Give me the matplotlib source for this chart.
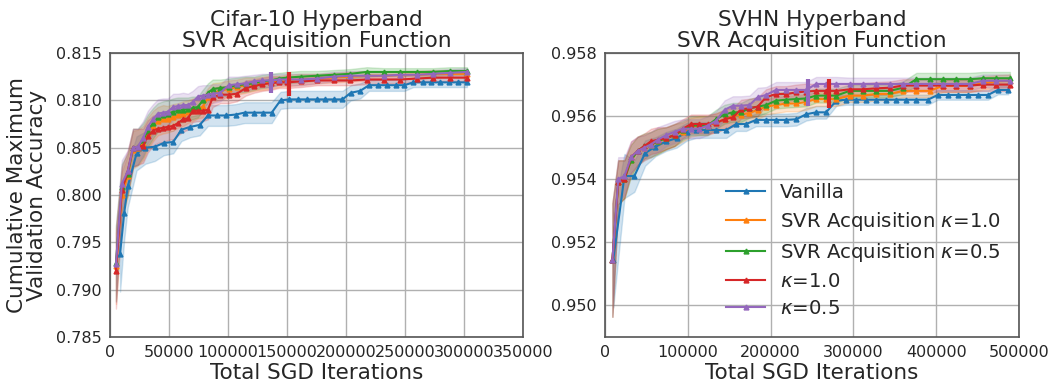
import numpy as np
import matplotlib
matplotlib.use("Agg")
import matplotlib.pyplot as plt

# ---------------- data: Cifar-10 (left) ----------------
x_van_left = [8500, 12000, 15000, 22500, 30000, 38000, 45500, 53500, 60500, 68000, 76000,
              83000, 91000, 98500, 106500, 114000, 122000, 129500, 137000, 144500, 152000,
              159500, 167000, 175000, 182000, 189500, 197000, 204000, 212000, 219500, 227000,
              234500, 242000, 249500, 257000, 265000, 272000, 279500, 287500, 295000, 302500]
van_left = [0.7938, 0.7981, 0.8009, 0.8044, 0.8050, 0.8051, 0.8055, 0.8056, 0.8069, 0.8072, 0.8074,
            0.8084, 0.8084, 0.8084, 0.8085, 0.8087, 0.8087, 0.8087, 0.8087, 0.8100, 0.8101,
            0.8101, 0.8101, 0.8101, 0.8101, 0.8101, 0.8101, 0.8108, 0.8110, 0.8116, 0.8116,
            0.8116, 0.8116, 0.8116, 0.8119, 0.8119, 0.8119, 0.8119, 0.8119, 0.8119, 0.8119]
van_std_left = [0.004, 0.0028, 0.0022, 0.0018, 0.0017, 0.0015, 0.0013, 0.0012, 0.0012, 0.0011, 0.0011,
                0.0011, 0.0011, 0.0011, 0.0011, 0.0011, 0.0011, 0.0011, 0.0011, 0.0009, 0.0009,
                0.0009, 0.0009, 0.0009, 0.0009, 0.0009, 0.0009, 0.0008, 0.0008, 0.0006, 0.0006,
                0.0006, 0.0006, 0.0006, 0.0005, 0.0005, 0.0005, 0.0005, 0.0005, 0.0005, 0.0005]

x_kap_left = [5000, 10000, 15000, 19500, 23500, 28000, 32000, 36500, 40500, 45000, 49000, 53500,
              57500, 62000, 66000, 70000, 74500, 78500, 83000, 87000, 93500, 100500, 107500, 115000,
              122000, 129000, 136000, 143000, 150000, 161500, 175500, 189500, 203500, 217500,
              232000, 246000, 260000, 274000, 288000, 302500]
svr10_left = [0.7925, 0.8000, 0.8020, 0.8048, 0.8050, 0.8055, 0.8065, 0.8073, 0.8078, 0.8080, 0.8080,
              0.8082, 0.8084, 0.8086, 0.8088, 0.8090, 0.8092, 0.8093, 0.8103, 0.8108, 0.8110, 0.8112,
              0.8114, 0.8116, 0.8117, 0.8118, 0.8119, 0.8120, 0.8121, 0.8122, 0.8123, 0.8124, 0.8125,
              0.8126, 0.8126, 0.8127, 0.8127, 0.8128, 0.8128, 0.8128]
svr05_left = [0.7928, 0.8008, 0.8022, 0.8050, 0.8051, 0.8058, 0.8068, 0.8076, 0.8082, 0.8084, 0.8086,
              0.8088, 0.8090, 0.8090, 0.8091, 0.8092, 0.8093, 0.8100, 0.8108, 0.8112, 0.8113, 0.8114,
              0.8116, 0.8117, 0.8118, 0.8120, 0.8121, 0.8123, 0.8124, 0.8125, 0.8126, 0.8127, 0.8128,
              0.8130, 0.8130, 0.8130, 0.8130, 0.8130, 0.8131, 0.8131]
k10_left = [0.7920, 0.8005, 0.8025, 0.8050, 0.8051, 0.8052, 0.8062, 0.8068, 0.8070, 0.8071, 0.8072,
            0.8073, 0.8076, 0.8080, 0.8081, 0.8089, 0.8089, 0.8089, 0.8090, 0.8103, 0.8106, 0.8106,
            0.8107, 0.8113, 0.8115, 0.8117, 0.8118, 0.8119, 0.8119, 0.8120, 0.8121, 0.8121, 0.8121,
            0.8122, 0.8122, 0.8122, 0.8123, 0.8124, 0.8124, 0.8124]
k05_left = [0.7927, 0.8012, 0.8025, 0.8050, 0.8051, 0.8060, 0.8072, 0.8080, 0.8086, 0.8087, 0.8088,
            0.8093, 0.8094, 0.8095, 0.8095, 0.8098, 0.8104, 0.8105, 0.8106, 0.8107, 0.8108, 0.8116,
            0.8117, 0.8118, 0.8120, 0.8121, 0.8121, 0.8122, 0.8122, 0.8122, 0.8123, 0.8125, 0.8126,
            0.8126, 0.8126, 0.8127, 0.8127, 0.8128, 0.8129, 0.8130]
kap_std_left = [0.004, 0.0025, 0.0022, 0.002, 0.0019, 0.0018, 0.0017, 0.0016, 0.0015, 0.0015, 0.0014,
                0.0014, 0.0013, 0.0013, 0.0012, 0.0012, 0.0011, 0.0011, 0.001, 0.001, 0.0009, 0.0009,
                0.0008, 0.0008, 0.0007, 0.0007, 0.0007, 0.0006, 0.0006, 0.0006, 0.0005, 0.0005, 0.0005,
                0.0005, 0.0004, 0.0004, 0.0004, 0.0004, 0.0004, 0.0004]
spike_x_left = [136000, 151500]
spike_lo_left = [0.8108, 0.8105]
spike_hi_left = [0.8130, 0.8130]
spike_col_left = ["C4", "C3"]

# ---------------- data: SVHN (right) ----------------
x_van_right = [10000, 23500, 35500, 48500, 61000, 74000, 86500, 98500, 110000, 122000, 134000,
               146500, 158500, 170500, 182500, 194500, 207000, 219000, 231000, 243000, 255000,
               267000, 279500, 291500, 303500, 315500, 327500, 339500, 352000, 364000, 376000,
               390000, 402000, 414500, 426500, 438500, 450500, 462500, 474500, 487000]
van_right = [0.95144, 0.9541, 0.9541, 0.95483, 0.95503, 0.9552, 0.9553, 0.9555, 0.95556, 0.95556,
             0.95556, 0.95556, 0.95575, 0.95575, 0.95588, 0.95588, 0.95588, 0.95588, 0.9559, 0.95606,
             0.95612, 0.95612, 0.95649, 0.95652, 0.95652, 0.95652, 0.95652, 0.95652, 0.95652, 0.95652,
             0.95652, 0.95652, 0.95667, 0.95667, 0.95667, 0.95667, 0.95667, 0.95667, 0.95683, 0.95683]
van_std_right = [0.0015, 0.0007, 0.0005, 0.0004, 0.0003, 0.0003, 0.0003, 0.00028, 0.00025, 0.00025,
                 0.00025, 0.00025, 0.00022, 0.00022, 0.0002, 0.0002, 0.0002, 0.0002, 0.0002, 0.0002,
                 0.0002, 0.0002, 0.00016, 0.00016, 0.00016, 0.00016, 0.00016, 0.00016, 0.00016, 0.00016,
                 0.00016, 0.00016, 0.00015, 0.00015, 0.00015, 0.00015, 0.00015, 0.00015, 0.00014, 0.00014]

x_kap_right = [9000, 16000, 23500, 31500, 39500, 47500, 55500, 63500, 74000, 84000, 94000, 104000,
               114000, 124000, 134000, 144500, 154500, 164500, 174500, 184500, 194500, 206500,
               219000, 231000, 243000, 255000, 267000, 279500, 295500, 311500, 327500, 344000,
               360000, 376000, 392000, 408000, 424500, 440500, 456500, 472500, 489000]
svr10_right = [0.95144, 0.9539, 0.9540, 0.9546, 0.9549, 0.9550, 0.9551, 0.9552, 0.9553, 0.9554,
               0.9555, 0.95565, 0.9557, 0.9557, 0.9558, 0.9559, 0.9560, 0.95605, 0.9561, 0.9562,
               0.9563, 0.95635, 0.9564, 0.9564, 0.95645, 0.95654, 0.95654, 0.95654, 0.95665, 0.95665,
               0.9567, 0.9567, 0.9568, 0.9568, 0.9568, 0.95696, 0.95696, 0.95696, 0.95705, 0.9571, 0.95712]
svr05_right = [0.95144, 0.9539, 0.9540, 0.9546, 0.9549, 0.95505, 0.9551, 0.9552, 0.9553, 0.9554,
               0.95555, 0.9557, 0.9557, 0.9557, 0.9559, 0.95606, 0.95612, 0.95612, 0.95625, 0.9563,
               0.95635, 0.95649, 0.95652, 0.95654, 0.95656, 0.95665, 0.95665, 0.95665, 0.9568, 0.9568,
               0.9568, 0.9568, 0.9569, 0.95717, 0.95717, 0.95717, 0.95717, 0.95717, 0.9572, 0.9572, 0.9572]
k10_right = [0.95144, 0.9539, 0.9540, 0.9547, 0.9549, 0.95505, 0.9552, 0.95525, 0.9553, 0.9554,
             0.9556, 0.95575, 0.95575, 0.95575, 0.95578, 0.9559, 0.95596, 0.95622, 0.95625, 0.9563,
             0.9566, 0.9567, 0.9567, 0.95675, 0.95678, 0.9568, 0.9568, 0.9568, 0.95685, 0.95685,
             0.95688, 0.9569, 0.95697, 0.95697, 0.95697, 0.95697, 0.95697, 0.95697, 0.9570, 0.9570, 0.9570]
k05_right = [0.95144, 0.9540, 0.9541, 0.9547, 0.9549, 0.9550, 0.9551, 0.95525, 0.9554, 0.9555,
             0.9556, 0.9556, 0.9556, 0.9557, 0.95585, 0.9562, 0.95633, 0.95633, 0.95635, 0.9566,
             0.95667, 0.95683, 0.95683, 0.95683, 0.95683, 0.95702, 0.95702, 0.95702, 0.95702, 0.95702,
             0.95702, 0.95702, 0.95702, 0.95702, 0.95702, 0.95702, 0.95702, 0.95702, 0.95712, 0.95712, 0.95712]
kap_std_right = [0.0018, 0.0007, 0.0006, 0.0005, 0.00045, 0.0004, 0.0004, 0.0004, 0.00035, 0.00035,
                 0.0003, 0.0003, 0.0003, 0.0003, 0.0003, 0.0003, 0.0003, 0.0003, 0.0003, 0.0003,
                 0.00025, 0.00025, 0.00025, 0.00025, 0.00025, 0.00022, 0.00022, 0.00022, 0.0002, 0.0002,
                 0.0002, 0.0002, 0.0002, 0.0002, 0.0002, 0.0002, 0.0002, 0.0002, 0.0002, 0.0002, 0.0002]
spike_x_right = [245500, 271000]
spike_lo_right = [0.95633, 0.95627]
spike_hi_right = [0.95717, 0.95717]
spike_col_right = ["C4", "C3"]

labels = ["Vanilla", r"SVR Acquisition $\kappa$=1.0", r"SVR Acquisition $\kappa$=0.5",
          r"$\kappa$=1.0", r"$\kappa$=0.5"]
colors = ["C0", "C1", "C2", "C3", "C4"]

plt.rcParams["font.family"] = ["DejaVu Sans"]
plt.rcParams["mathtext.fontset"] = "dejavusans"

fig = plt.figure(figsize=(10.49, 3.83), dpi=100)
ax1 = fig.add_axes([0.1049, 0.1201, 0.3937, 0.7415])
ax2 = fig.add_axes([0.5767, 0.1201, 0.3947, 0.7415])


def draw(ax, xv, van, vstd, xk, series, kstd, sx, slo, shi, scol):
    xv = np.array(xv)
    xk = np.array(xk)
    allx = [xv] + [xk] * 4
    ally = [np.array(van)] + [np.array(s) for s in series]
    allstd = [np.array(vstd)] + [np.array(kstd)] * 4
    for x, y, s, c, lab in zip(allx, ally, allstd, colors, labels):
        ax.fill_between(x, y - s, y + s, color=c, alpha=0.2)
        ax.plot(x, y, color=c, marker="^", markersize=3.5, lw=1.5, label=lab)
    ax.vlines(sx, slo, shi, colors=scol, lw=3)


draw(ax1, x_van_left, van_left, van_std_left, x_kap_left,
     [svr10_left, svr05_left, k10_left, k05_left], kap_std_left,
     spike_x_left, spike_lo_left, spike_hi_left, spike_col_left)
draw(ax2, x_van_right, van_right, van_std_right, x_kap_right,
     [svr10_right, svr05_right, k10_right, k05_right], kap_std_right,
     spike_x_right, spike_lo_right, spike_hi_right, spike_col_right)

ax1.set_xlim(0, 350000)
ax1.set_ylim(0.785, 0.815)
ax1.set_xticks(np.arange(0, 350001, 50000))
ax1.set_yticks(np.arange(0.785, 0.8151, 0.005))
ax1.set_yticklabels(["%.3f" % v for v in np.arange(0.785, 0.8151, 0.005)])

ax2.set_xlim(0, 500000)
ax2.set_ylim(0.949, 0.958)
ax2.set_xticks(np.arange(0, 500001, 100000))
ax2.set_yticks(np.arange(0.950, 0.9581, 0.002))
ax2.set_yticklabels(["%.3f" % v for v in np.arange(0.950, 0.9581, 0.002)])

for ax, title in [(ax1, "Cifar-10 Hyperband\nSVR Acquisition Function"),
                  (ax2, "SVHN Hyperband\nSVR Acquisition Function")]:
    ax.set_title(title, fontsize=15.7, color="#262626", pad=4, linespacing=1.1)
    ax.set_xlabel("Total SGD Iterations", fontsize=15.5, color="#262626", labelpad=2)
    ax.grid(True, color="#b0b0b0", lw=1)
    ax.set_axisbelow(True)
    ax.tick_params(length=0, labelsize=11.5, labelcolor="#262626", pad=6)
    for sp in ax.spines.values():
        sp.set_color("#555555")
        sp.set_linewidth(1.2)

ax1.set_ylabel("Cumulative Maximum\nValidation Accuracy", fontsize=15.5, color="#262626",
               labelpad=6, linespacing=1.0)

ax2.legend(loc="lower right", bbox_to_anchor=(1.0, 0.005), frameon=False, fontsize=14.2,
           handlelength=2.0, labelspacing=0.4, handletextpad=0.75, labelcolor="#262626")

fig.savefig("out.png", dpi=100)
